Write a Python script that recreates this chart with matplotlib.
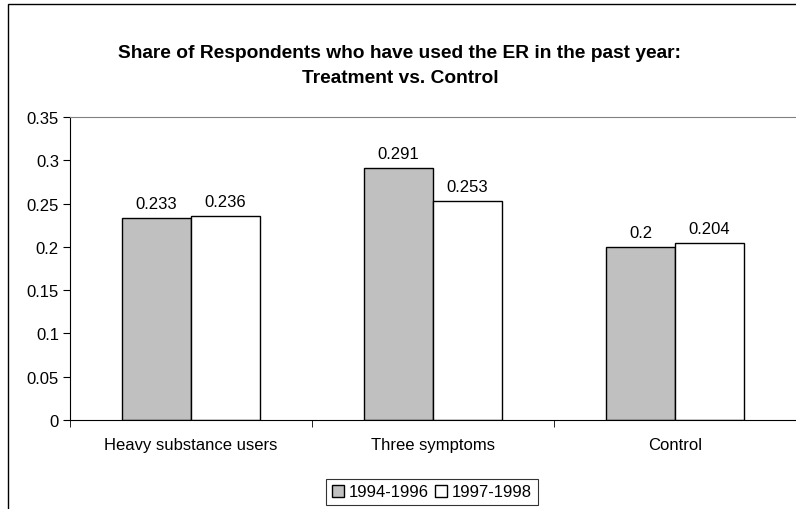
import numpy as np
import matplotlib.pyplot as plt
from matplotlib.patches import Rectangle

plt.rcParams['font.family'] = ['Liberation Sans', 'DejaVu Sans']

categories = ["Heavy substance users", "Three symptoms", "Control"]
period_labels = ["1994-1996", "1997-1998"]
share_9496 = [0.233, 0.291, 0.2]
share_9798 = [0.236, 0.253, 0.204]
yticks = [0, 0.05, 0.1, 0.15, 0.2, 0.25, 0.3, 0.35]
ytick_labels = ["0", "0.05", "0.1", "0.15", "0.2", "0.25", "0.3", "0.35"]


def main():
    fig = plt.figure(figsize=(7.96, 5.10), dpi=100)
    ax = fig.add_axes([70 / 796, 89 / 510, 726 / 796, 303 / 510])

    fs = 12
    x = np.arange(len(categories))
    w = 0.285
    b1 = ax.bar(x - w / 2, share_9496, w, color="#C0C0C0", edgecolor="black",
                linewidth=1, label=period_labels[0])
    b2 = ax.bar(x + w / 2, share_9798, w, color="white", edgecolor="black",
                linewidth=1, label=period_labels[1])

    for bars, vals in ((b1, share_9496), (b2, share_9798)):
        for rect, v in zip(bars, vals):
            ax.annotate(f"{v:g}", (rect.get_x() + rect.get_width() / 2, v),
                        xytext=(0, 5), textcoords="offset points",
                        ha="center", va="bottom", fontsize=fs)

    ax.set_xlim(-0.5, len(categories) - 0.5)
    ax.set_ylim(0, 0.35)
    ax.set_yticks(yticks)
    ax.set_yticklabels(ytick_labels, fontsize=fs)
    ax.set_xticks(x)
    ax.set_xticklabels(categories, fontsize=fs)
    ax.tick_params(axis="x", length=0, pad=12)
    ax.tick_params(axis="y", length=5, direction="out", pad=3)
    # category separators on the x axis
    ax.set_xticks(np.arange(-0.5, len(categories)), minor=True)
    ax.tick_params(axis="x", which="minor", length=5, direction="out")

    ax.spines["top"].set_color("#808080")
    ax.spines["right"].set_visible(False)
    ax.spines["left"].set_color("black")
    ax.spines["bottom"].set_color("black")

    fig.text(400 / 796, 1 - 66 / 510,
             "Share of Respondents who have used the ER in the past year:\nTreatment vs. Control",
             ha="center", va="center", fontsize=13.8, fontweight="bold",
             linespacing=1.55)

    leg = fig.legend(loc="center", bbox_to_anchor=(432 / 796, 1 - 493 / 510),
                     ncol=2, fontsize=fs, frameon=True, fancybox=False,
                     edgecolor="black", handlelength=0.7, handleheight=0.7,
                     handletextpad=0.3, columnspacing=0.4, borderpad=0.35,
                     borderaxespad=0)
    leg.get_frame().set_linewidth(0.8)

    # chart area border
    fig.patches.append(Rectangle((8 / 796, -0.1), 1.2, 1.1 - 5 / 510,
                                 transform=fig.transFigure, fill=False,
                                 edgecolor="black", linewidth=1.0))

    fig.savefig("out.png", dpi=100)
    plt.close(fig)


if __name__ == "__main__":
    main()
